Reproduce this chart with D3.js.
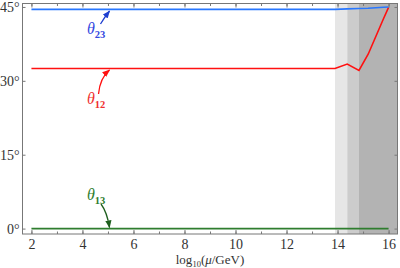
<!DOCTYPE html>
<html>
<head>
<meta charset="utf-8">
<script src="https://cdn.jsdelivr.net/npm/d3@7"></script>
<style>
body { margin: 0; background: #fff; }
svg text { font-family: "Liberation Serif", "DejaVu Serif", serif !important; }
</style>
</head>
<body>
<div id="viz-container"></div>
<script>
// values
let scaleLog = [2, 4, 6, 8, 10, 12, 13.9, 14.38, 14.84, 15.2, 15.5, 15.8, 16];
let theta23 = [44.5, 44.5, 44.5, 44.5, 44.5, 44.5, 44.5, 44.6, 44.7, 44.75, 44.85, 44.95, 45.0];
let theta12 = [32.5, 32.5, 32.5, 32.5, 32.5, 32.5, 32.5, 33.4, 32.1, 35.4, 39.0, 42.6, 44.9];
let theta13 = [0, 0, 0, 0, 0, 0, 0, 0, 0, 0, 0, 0, 0];
let bands = [[13.9, 14.38, "#e6e6e6"], [14.38, 14.84, "#cccccc"], [14.84, 16.4, "#b3b3b3"]];
let xTicks = [2, 4, 6, 8, 10, 12, 14, 16];
let yTicks = [0, 15, 30, 45];

let w = 400, h = 268;
let mLeft = 22.5, mRight = 397.5, mTop = 3.5, mBottom = 234;
let serif = "'Liberation Serif', 'DejaVu Serif', serif";

let viz = d3.select("#viz-container")
    .append("svg")
    .attr("width", w)
    .attr("height", h);

let xScale = d3.scaleLinear().domain([1.65, 16.35]).range([mLeft, mRight]);
let yScale = d3.scaleLinear().domain([-1.1, 45.7]).range([mBottom, mTop]);

// shaded regions
viz.selectAll(".band").data(bands).enter()
    .append("rect")
    .attr("x", d => xScale(d[0]))
    .attr("y", mTop)
    .attr("width", d => Math.min(xScale(d[1]), mRight) - xScale(d[0]))
    .attr("height", mBottom - mTop)
    .attr("fill", d => d[2]);

// lines
let rows = scaleLog.map((x, i) => ({x: x, t23: theta23[i], t12: theta12[i], t13: theta13[i]}));
function drawLine(key, color) {
    let line = d3.line().x(d => xScale(d.x)).y(d => yScale(d[key])).curve(d3.curveLinear);
    viz.append("path")
        .datum(rows)
        .attr("fill", "none")
        .attr("stroke", color)
        .attr("stroke-width", 1.6)
        .attr("d", line);
}
drawLine("t13", "#2e7d2e");
drawLine("t12", "#ff1010");
drawLine("t23", "#2877ff");

// axes (ticks inward, on all four sides)
let axisColor = "#777";
let xMinor = d3.range(2, 17, 1);
function styleAxis(g) {
    g.attr("font-family", serif);
    g.select(".domain").remove();
    g.selectAll("line").attr("stroke", axisColor);
    g.selectAll("text").attr("fill", "#333").style("font-family", serif).style("font-size", "14px");
}
viz.append("g").attr("transform", "translate(0," + mBottom + ")")
    .call(d3.axisBottom(xScale).tickValues(xTicks).tickSize(-4).tickPadding(5).tickFormat(d3.format("d")))
    .call(styleAxis);
viz.append("g").attr("transform", "translate(0," + mBottom + ")")
    .call(d3.axisBottom(xScale).tickValues(xMinor).tickSize(-2.5).tickFormat(""))
    .call(styleAxis);
viz.append("g").attr("transform", "translate(0," + mTop + ")")
    .call(d3.axisTop(xScale).tickValues(xTicks).tickSize(-4).tickFormat(""))
    .call(styleAxis);
viz.append("g").attr("transform", "translate(0," + mTop + ")")
    .call(d3.axisTop(xScale).tickValues(xMinor).tickSize(-2.5).tickFormat(""))
    .call(styleAxis);
viz.append("g").attr("transform", "translate(" + mLeft + ",0)")
    .call(d3.axisLeft(yScale).tickValues(yTicks).tickSize(-3).tickPadding(3).tickFormat(d => d + "°"))
    .call(styleAxis);
viz.append("g").attr("transform", "translate(" + mRight + ",0)")
    .call(d3.axisRight(yScale).tickValues(yTicks).tickSize(-3).tickFormat(""))
    .call(styleAxis);

// frame
viz.append("rect")
    .attr("x", mLeft).attr("y", mTop)
    .attr("width", mRight - mLeft).attr("height", mBottom - mTop)
    .attr("fill", "none").attr("stroke", axisColor).attr("stroke-width", 1);

// x label
let xl = viz.append("text")
    .attr("x", (mLeft + mRight) / 2).attr("y", 264)
    .attr("text-anchor", "middle")
    .attr("fill", "#333")
    .style("font-family", serif)
    .style("font-size", "13px");
xl.append("tspan").text("log");
xl.append("tspan").attr("dy", 2.5).style("font-size", "8.5px").text("10");
xl.append("tspan").attr("dy", -2.5).text("(");
xl.append("tspan").style("font-style", "italic").text("μ");
xl.append("tspan").text("/GeV)");

// annotations
viz.append("defs").selectAll("marker")
    .data([["a23", "#1f3fd0"], ["a12", "#ff1010"], ["a13", "#1f5f1f"]]).enter()
    .append("marker")
    .attr("id", d => d[0])
    .attr("viewBox", "0 0 10 10")
    .attr("refX", 9).attr("refY", 5)
    .attr("markerWidth", 6).attr("markerHeight", 6)
    .attr("orient", "auto")
    .append("path").attr("d", "M0,1 L10,5 L0,9 Z").attr("fill", d => d[1]);

let labels = [
    {name: "23", color: "#3347e0", arrow: "#1f3fd0", id: "a23", lx: 87, ly: 34, from: [100.5, 24], ctrl: [104, 18], to: [109.5, 11]},
    {name: "12", color: "#f03030", arrow: "#ff1010", id: "a12", lx: 87, ly: 104, from: [98.5, 94], ctrl: [100, 78], to: [109.5, 70]},
    {name: "13", color: "#2e7d2e", arrow: "#1f5f1f", id: "a13", lx: 87, ly: 200, from: [101, 204], ctrl: [107, 212], to: [109.5, 227.5]}
];
labels.forEach(function(d) {
    let t = viz.append("text").attr("x", d.lx).attr("y", d.ly).attr("fill", d.color)
        .style("font-family", serif).style("font-size", "16px");
    t.append("tspan").style("font-style", "italic").text("θ");
    t.append("tspan").attr("dy", 4).style("font-size", "10.5px").style("font-weight", "bold").text(d.name);
    viz.append("path")
        .attr("d", "M" + d.from + " Q" + d.ctrl + " " + d.to)
        .attr("fill", "none").attr("stroke", d.arrow).attr("stroke-width", 1.3)
        .attr("marker-end", "url(#" + d.id + ")");
});
</script>
</body>
</html>
